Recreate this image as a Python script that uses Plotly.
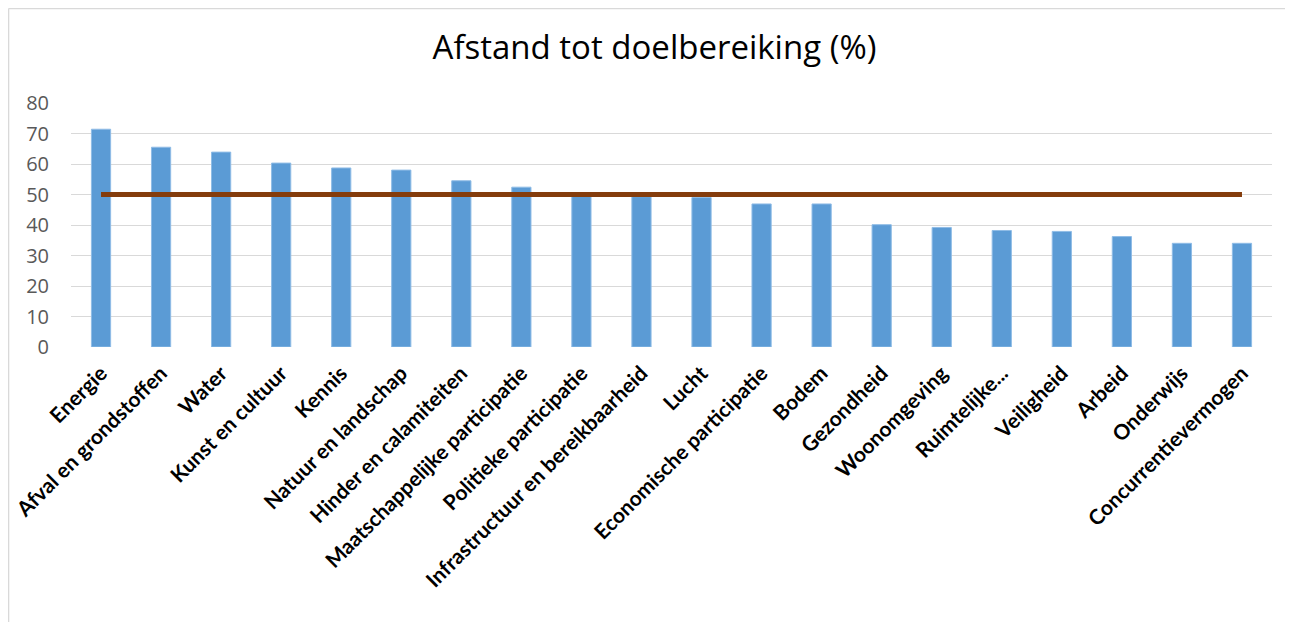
import plotly.graph_objects as go

categories = ["Energie", "Afval en grondstoffen", "Water", "Kunst en cultuur", "Kennis",
              "Natuur en landschap", "Hinder en calamiteiten", "Maatschappelijke participatie",
              "Politieke participatie", "Infrastructuur en bereikbaarheid", "Lucht",
              "Economische participatie", "Bodem", "Gezondheid", "Woonomgeving",
              "Ruimtelijke...", "Veiligheid", "Arbeid", "Onderwijs", "Concurrentievermogen"]
values = [71.4, 65.5, 63.9, 60.3, 58.7, 58.0, 54.5, 52.4, 49.4, 49.3, 49.0,
          46.9, 46.9, 40.1, 39.2, 38.2, 37.9, 36.2, 34.0, 34.0]
target = [50] * len(categories)
y_ticks = [0, 10, 20, 30, 40, 50, 60, 70, 80]

fig = go.Figure()
fig.add_trace(go.Bar(x=categories, y=values, width=0.32,
                     marker=dict(color="#5B9BD5", line=dict(color="#8FBCE6", width=1)),
                     showlegend=False))
fig.add_trace(go.Scatter(x=categories, y=target, mode="lines",
                         line=dict(color="#843C0C", width=5), showlegend=False))

fig.update_layout(
    width=1293, height=622,
    margin=dict(l=63, r=29, t=95, b=283),
    paper_bgcolor="white", plot_bgcolor="white",
    title=dict(text="Afstand tot doelbereiking (%)", x=0.5, xanchor="center",
               y=0.937, yanchor="middle",
               font=dict(family="Open Sans", size=33, color="#000000")),
    xaxis=dict(tickangle=-45, automargin=False,
               tickfont=dict(family="Lato", size=21, color="#000000", weight="bold"),
               showgrid=False, showline=False, ticks="", ticklabelstandoff=9),
    yaxis=dict(range=[0, 80], tickvals=y_ticks, showgrid=True, gridcolor="#D9D9D9", gridwidth=1,
               zeroline=False, showline=False, automargin=False, ticklabelstandoff=21,
               tickfont=dict(family="Open Sans", size=20, color="#595959")),
    shapes=[
        dict(type="line", xref="paper", yref="paper", x0=-0.052, x1=-0.052, y0=-1.3, y1=1.387,
             line=dict(color="#D9D9D9", width=1.5)),
        dict(type="line", xref="paper", yref="paper", x0=-0.052, x1=1.05, y0=1.387, y1=1.387,
             line=dict(color="#D9D9D9", width=1.5)),
    ],
)
fig.write_html("out.html")
